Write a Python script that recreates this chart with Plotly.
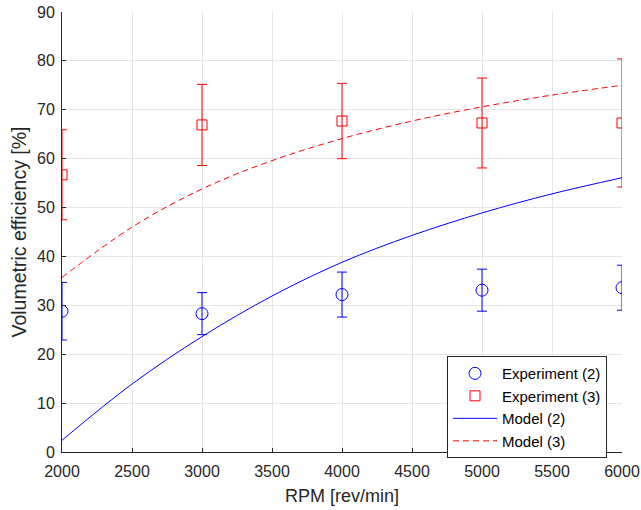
import plotly.graph_objects as go

# Measured volumetric efficiency with error bars
rpm_exp = [2000, 3000, 4000, 5000, 6000]
exp2_mean = [28.8, 28.3, 32.2, 33.1, 33.6]
exp2_err = [5.9, 4.3, 4.6, 4.3, 4.6]
exp3_mean = [56.7, 66.9, 67.7, 67.3, 67.3]
exp3_err = [9.2, 8.3, 7.7, 9.2, 13.1]

# Model predictions
rpm_model = [2000, 2500, 3000, 3500, 4000, 4500, 5000, 5500, 6000]
model2 = [2.4, 13.9, 23.6, 31.9, 38.8, 44.3, 48.9, 52.8, 56.1]
model3 = [35.7, 46.0, 53.8, 59.6, 64.1, 67.7, 70.6, 73.0, 75.0]

x_ticks = [2000, 2500, 3000, 3500, 4000, 4500, 5000, 5500, 6000]
y_ticks = [0, 10, 20, 30, 40, 50, 60, 70, 80, 90]

BLUE = "#0000FF"
RED = "#FF0000"
FONT = "Liberation Sans, Arial, sans-serif"
AXIS_GRAY = "#262626"

fig = go.Figure()

fig.add_trace(go.Scatter(
    x=rpm_exp, y=exp2_mean, mode="markers", name="Experiment (2)",
    marker=dict(symbol="circle-open", size=12, color=BLUE, line=dict(width=1, color=BLUE)),
    error_y=dict(type="data", array=exp2_err, visible=True, color=BLUE, thickness=1, width=5),
))
fig.add_trace(go.Scatter(
    x=rpm_exp, y=exp3_mean, mode="markers", name="Experiment (3)",
    marker=dict(symbol="square-open", size=10, color=RED, line=dict(width=1, color=RED)),
    error_y=dict(type="data", array=exp3_err, visible=True, color=RED, thickness=1, width=5),
))
fig.add_trace(go.Scatter(
    x=rpm_model, y=model2, mode="lines", name="Model (2)",
    line=dict(color=BLUE, width=1, shape="spline"),
))
fig.add_trace(go.Scatter(
    x=rpm_model, y=model3, mode="lines", name="Model (3)",
    line=dict(color=RED, width=1, dash="6px,4px", shape="spline"),
))

axis_common = dict(
    showgrid=True, gridcolor="#e6e6e6", gridwidth=1,
    showline=True, linecolor=AXIS_GRAY, linewidth=1,
    ticks="inside", ticklen=4, tickcolor=AXIS_GRAY,
    tickfont=dict(family=FONT, size=16, color=AXIS_GRAY),
    zeroline=False, mirror=False, automargin=False,
)

fig.update_xaxes(
    range=[2000, 6000], tickvals=x_ticks, ticklabelstandoff=5,
    title=dict(text="RPM [rev/min]", font=dict(family=FONT, size=18, color=AXIS_GRAY), standoff=10),
    **axis_common,
)
fig.update_yaxes(
    range=[0, 90], tickvals=y_ticks, ticklabelstandoff=3,
    title=dict(text="Volumetric efficiency [%]", font=dict(family=FONT, size=19.5, color=AXIS_GRAY), standoff=5),
    **axis_common,
)

fig.update_layout(
    width=641, height=510,
    margin=dict(l=62, r=19, t=12, b=58),
    paper_bgcolor="white", plot_bgcolor="white",
    font=dict(family=FONT),
    legend=dict(
        x=0.6875, y=0.218, xanchor="left", yanchor="top",
        bgcolor="white", bordercolor=AXIS_GRAY, borderwidth=1,
        font=dict(family=FONT, size=15, color="#000000"),
        tracegroupgap=0, itemwidth=44,
    ),
    showlegend=True,
)

fig.write_html("out.html")
